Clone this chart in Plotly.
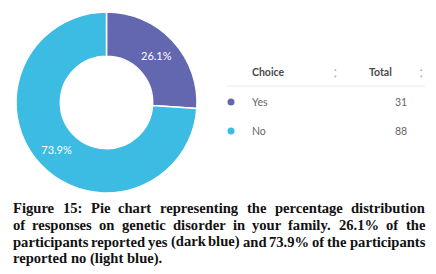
import plotly.graph_objects as go

# page body has an 8px margin; lay out in reference pixels and shift by it
OFF = 8
W, H = 436 - OFF, 274 - OFF

choices = ["Yes", "No"]
totals = [31, 88]
colors = ["#6267b0", "#3cbce3"]
table_headers = ["Choice", "Total"]

caption_lines = [
    "Figure 15: Pie chart representing the percentage distribution",
    "of responses on genetic disorder in your family. 26.1% of the",
    "participants reported yes (dark blue) and 73.9% of the participants",
    "reported no (light blue).",
]
caption_justified = [True, True, True, False]

def px(x):
    return (x - OFF) / W

def py(y):
    return 1 - (y - OFF) / H

# Times/Liberation Serif Bold advance widths (1/1000 em) for caption layout
TW = dict(zip("abcdefghijklmnopqrstuvwxyz",
              [500, 556, 444, 556, 444, 333, 500, 556, 278, 333, 556, 278, 833,
               556, 500, 556, 556, 444, 389, 333, 556, 500, 722, 500, 500, 444]))
TW.update({"F": 611, "P": 611, " ": 250, ":": 333, ".": 250, "%": 1000,
           "(": 333, ")": 333})
for d in "0123456789":
    TW[d] = 500

CAP_SIZE = 14.6
CAP_LEFT, CAP_RIGHT = 13, 425

def word_w(w):
    return sum(TW.get(c, 500) for c in w) * CAP_SIZE / 1000.0

fig = go.Figure()
fig.add_trace(go.Pie(
    labels=choices,
    values=totals,
    hole=0.51,
    sort=False,
    direction="clockwise",
    rotation=0,
    marker=dict(colors=colors, line=dict(color="white", width=1.5)),
    texttemplate="%{percent:.1%}",
    textposition="inside",
    insidetextorientation="horizontal",
    textfont=dict(family="Lato", size=11, color="white"),
    domain=dict(x=[px(16), px(197)], y=[py(193), py(12)]),
    showlegend=False,
    hoverinfo="skip",
))

ann = []
hdr_font = dict(family="Lato", size=10.5, color="#4a4a4a")
ann.append(dict(x=px(250), y=py(72), text="<b>" + table_headers[0] + "</b>", xanchor="left",
                yanchor="middle", font=hdr_font, showarrow=False))
ann.append(dict(x=px(367), y=py(72), text="<b>" + table_headers[1] + "</b>", xanchor="left",
                yanchor="middle", font=hdr_font, showarrow=False))
for sx in (335, 421):
    ann.append(dict(x=px(sx), y=py(72), text="▴<br>▾", xanchor="center", yanchor="middle",
                    font=dict(family="DejaVu Sans", size=5, color="#b8b8b8"), showarrow=False))

row_y = [102, 131]
shapes = [dict(type="line", xref="paper", yref="paper", x0=px(226), x1=px(425),
               y0=py(86), y1=py(86), line=dict(color="#e8e8e8", width=1))]
for lab, tot, col, ry in zip(choices, totals, colors, row_y):
    ann.append(dict(x=px(250), y=py(ry), text=lab, xanchor="left", yanchor="middle",
                    font=dict(family="Lato", size=10.5, color="#666666"), showarrow=False))
    ann.append(dict(x=px(409), y=py(ry), text=str(tot), xanchor="right", yanchor="middle",
                    font=dict(family="Lato", size=10.5, color="#666666"), showarrow=False))
    shapes.append(dict(type="circle", xref="paper", yref="paper",
                       x0=px(227.5), x1=px(234.5), y0=py(ry + 3.5), y1=py(ry - 3.5),
                       fillcolor=col, line=dict(width=0)))

cap_y = [208, 225, 241.5, 258]
cap_font = dict(family="Liberation Serif", size=CAP_SIZE, color="#111111")
for line, just, cy in zip(caption_lines, caption_justified, cap_y):
    words = line.split(" ")
    widths = [word_w(w) for w in words]
    if just and len(words) > 1:
        gap = (CAP_RIGHT - CAP_LEFT - sum(widths)) / (len(words) - 1)
    else:
        gap = word_w(" ")
    x = CAP_LEFT
    for w, ww in zip(words, widths):
        ann.append(dict(x=px(x), y=py(cy), text="<b>" + w + "</b>", xanchor="left",
                        yanchor="middle", font=cap_font, showarrow=False,
                        borderpad=0, borderwidth=0))
        x += ww + gap

fig.update_layout(
    width=W, height=H,
    margin=dict(l=0, r=0, t=0, b=0),
    paper_bgcolor="white", plot_bgcolor="white",
    annotations=ann, shapes=shapes,
)
fig.write_html("out.html")
